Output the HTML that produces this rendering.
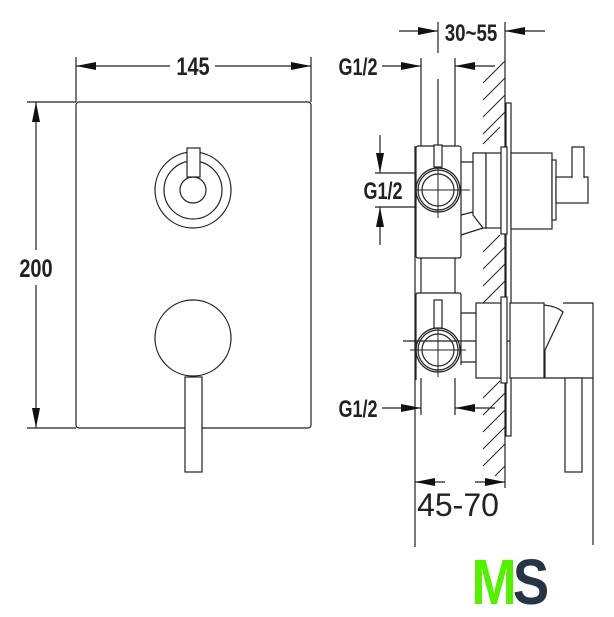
<!DOCTYPE html>
<html><head><meta charset="utf-8"><style>
html,body{margin:0;padding:0;background:#fff;width:614px;height:617px;overflow:hidden}
svg{display:block}
text{font-family:"Liberation Sans",sans-serif}
</style></head><body>
<svg width="614" height="617" viewBox="0 0 614 617" xmlns="http://www.w3.org/2000/svg">
<defs>
<marker id="a" markerWidth="20" markerHeight="8" refX="20" refY="4" orient="auto" markerUnits="userSpaceOnUse">
<path d="M0,0 L20,4 L0,8 Z" fill="#111"/></marker>
</defs>
<g fill="none" stroke="#222" stroke-width="1.2">
<rect x="76" y="102" width="235" height="326" rx="3"/>
<line x1="76" y1="57" x2="76" y2="102"/>
<line x1="311" y1="57" x2="311" y2="102"/>
<line x1="170" y1="66" x2="76" y2="66" marker-end="url(#a)"/>
<line x1="215" y1="66" x2="311" y2="66" marker-end="url(#a)"/>
<line x1="27" y1="102" x2="76" y2="102"/>
<line x1="27" y1="428" x2="76" y2="428"/>
<line x1="36" y1="250" x2="36" y2="102" marker-end="url(#a)"/>
<line x1="36" y1="285" x2="36" y2="428" marker-end="url(#a)"/>
<circle cx="193" cy="190" r="38"/>
<circle cx="193" cy="190" r="29"/>
<circle cx="193" cy="190" r="13"/>
<rect x="187" y="148" width="13" height="29" fill="#fff"/>
<circle cx="193" cy="338" r="38"/>
<rect x="185" y="377" width="17" height="95" fill="#fff"/>
<line x1="438" y1="22" x2="438" y2="53"/>
<line x1="505" y1="22" x2="505" y2="488"/>
<line x1="399" y1="31" x2="438" y2="31" marker-end="url(#a)"/>
<line x1="545" y1="31" x2="505" y2="31" marker-end="url(#a)"/>
<line x1="382" y1="66" x2="421" y2="66" marker-end="url(#a)"/>
<line x1="495" y1="66" x2="455" y2="66" marker-end="url(#a)"/>
<line x1="421" y1="58" x2="421" y2="146"/>
<line x1="455" y1="58" x2="455" y2="146"/>
<line x1="438" y1="79" x2="438" y2="146"/>
<line x1="382" y1="408" x2="421" y2="408" marker-end="url(#a)"/>
<line x1="495" y1="408" x2="455" y2="408" marker-end="url(#a)"/>
<line x1="421" y1="378" x2="421" y2="415"/>
<line x1="455" y1="378" x2="455" y2="415"/>
<line x1="380" y1="135" x2="380" y2="173" marker-end="url(#a)"/>
<line x1="380" y1="245" x2="380" y2="207" marker-end="url(#a)"/>
<line x1="375" y1="173" x2="438" y2="173"/>
<line x1="375" y1="207" x2="438" y2="207"/>
<line x1="415" y1="146" x2="415" y2="547"/>
<line x1="593" y1="378" x2="593" y2="545"/>
<line x1="445" y1="482" x2="415" y2="482" marker-end="url(#a)"/>
<line x1="475" y1="482" x2="505" y2="482" marker-end="url(#a)"/>
<g stroke-width="1">
<path d="M483,83 L505,61 M483,100 L505,78 M483,117 L505,95 M483,134 L505,112 M483,144 L500,127
M483,252 L500,235 M483,269 L505,247 M483,286 L505,264 M483,303 L505,281
M483,398 L500,381 M483,415 L505,393 M483,432 L505,410 M483,449 L505,427 M483,466 L505,444 M495,476 L505,466"/>
</g>
<rect x="506" y="103" width="5" height="333" fill="#fff"/>
<rect x="416" y="146" width="45" height="112" rx="2" fill="#fff"/>
<circle cx="438" cy="190" r="22"/>
<circle cx="438" cy="190" r="20"/>
<circle cx="438" cy="190" r="16"/>
<line x1="416" y1="190" x2="470" y2="190" stroke-width="1"/>
<line x1="438" y1="165" x2="438" y2="218" stroke-width="1"/>
<rect x="434" y="145" width="8" height="22" fill="#fff"/>
<path d="M461,162 L473,162 M461,215 L473,212 M461,235 L483,228"/>
<path d="M473,153 L486,153 L486,228 L483,228 L473,215 Z" fill="#fff"/>
<rect x="486" y="153" width="15" height="75" fill="#fff"/>
<rect x="501" y="147" width="6" height="87" fill="#fff"/>
<rect x="511" y="153" width="41" height="76" fill="#fff"/>
<rect x="552" y="160" width="4" height="60" fill="#fff"/>
<rect x="556" y="177" width="32" height="26" fill="#fff"/>
<path d="M572,178 L572,147 L584,147 L584,178" fill="#fff"/>
<line x1="421" y1="258" x2="421" y2="293"/>
<line x1="455" y1="258" x2="455" y2="293"/>
<path d="M416,380 L416,295 Q416,293 418,293 L459,293 Q461,293 461,295 L461,365"/>
<circle cx="438" cy="350" r="22"/>
<circle cx="438" cy="350" r="20"/>
<circle cx="438" cy="350" r="16"/>
<line x1="410" y1="350" x2="466" y2="350" stroke-width="1"/>
<line x1="438" y1="325" x2="438" y2="377" stroke-width="1"/>
<rect x="434" y="300" width="8" height="28" fill="#fff"/>
<line x1="403" y1="341" x2="529" y2="341" stroke-width="1.2"/>
<path d="M461,313 L476,313 M461,362 L476,362"/>
<rect x="476" y="303" width="25" height="75" fill="#fff"/>
<rect x="501" y="297" width="6" height="86" fill="#fff"/>
<rect x="510" y="303" width="34" height="75" fill="#fff"/>
<path d="M544,305 Q556,306 563,312 L545,350 L545,378 L593,378 L593,303 L563,303" fill="#fff"/>
<rect x="565" y="378" width="17" height="94" fill="#fff"/>
</g>
<g fill="#222" font-weight="bold">
<text x="193" y="75" font-size="25" text-anchor="middle" transform="translate(193,0) scale(0.8,1) translate(-193,0)">145</text>
<text x="36" y="277" font-size="25" text-anchor="middle" transform="translate(36,0) scale(0.8,1) translate(-36,0)">200</text>
<text x="471" y="41" font-size="24" text-anchor="middle" transform="translate(471,0) scale(0.78,1) translate(-471,0)">30~55</text>
<text x="358" y="75" font-size="24" text-anchor="middle" transform="translate(358,0) scale(0.75,1) translate(-358,0)">G1/2</text>
<text x="383" y="199" font-size="24" text-anchor="middle" transform="translate(383,0) scale(0.75,1) translate(-383,0)">G1/2</text>
<text x="358" y="417" font-size="24" text-anchor="middle" transform="translate(358,0) scale(0.75,1) translate(-358,0)">G1/2</text>
</g>
<text x="458" y="516" font-size="32" fill="#222" text-anchor="middle">45-70</text>
<text x="494" y="604" font-size="64" font-weight="bold" fill="#55f000" text-anchor="middle" transform="translate(494,0) scale(0.85,1) translate(-494,0)">M</text>
<text x="531" y="604" font-size="64" font-weight="bold" fill="#263444" text-anchor="middle" transform="translate(531,0) scale(0.85,1) translate(-531,0)">S</text>
</svg>
</body></html>
